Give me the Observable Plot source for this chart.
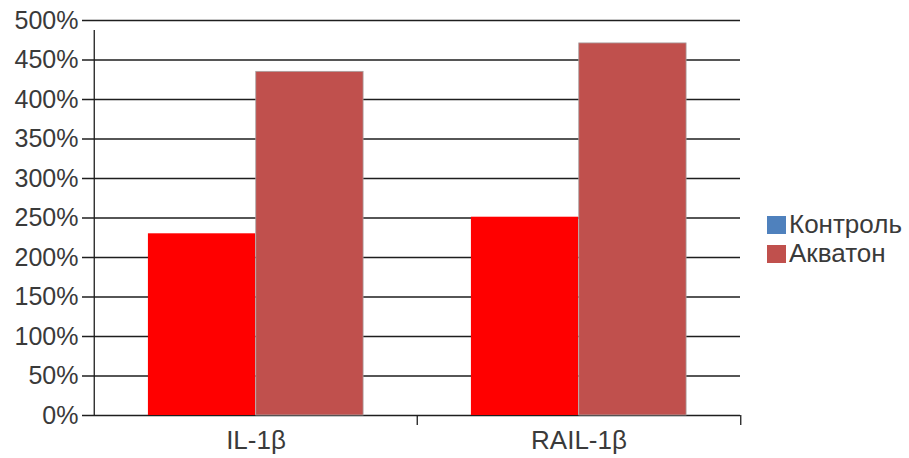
<!DOCTYPE html>
<html>
<head>
<meta charset="utf-8">
<script src="https://cdn.jsdelivr.net/npm/d3@7"></script>
<script src="https://cdn.jsdelivr.net/npm/@observablehq/plot@0.6"></script>
<style>
  html, body { margin: 0; padding: 0; background: #fff; }
  #wrap { position: relative; width: 909px; height: 458px; font-family: "Liberation Sans", Arial, sans-serif; }
  #legend { position: absolute; left: 767px; top: 210px; font-size: 26px; color: #3a3a3a; line-height: 29px; }
  #legend .row { display: flex; align-items: center; white-space: nowrap; }
  #legend .sw { width: 19px; height: 18px; margin-right: 3px; }
  svg .xax text { font-size: 26px; }
</style>
</head>
<body>
<div id="wrap"><div id="legend"></div></div>
<script>
// Data
const categories = ["IL-1β", "RAIL-1β"];
const series = ["Контроль", "Акватон"];
const control = [230, 251];
const akvaton = [435, 471];
const yTicks = [0, 50, 100, 150, 200, 250, 300, 350, 400, 450, 500];

const rows = [];
categories.forEach((c, i) => {
  rows.push({category: c, series: series[0], value: control[i]});
  rows.push({category: c, series: series[1], value: akvaton[i]});
});

const W = 909, H = 458;
const mL = 93, mR = 169, mT = 20, mB = 43;
const band = (W - mL - mR) / categories.length;
const barColors = {"Контроль": "#ff0000", "Акватон": "#c0504d"};
const legendColors = {"Контроль": "#4f81bd", "Акватон": "#c0504d"};

const chart = Plot.plot({
  width: W,
  height: H,
  marginLeft: mL,
  marginRight: mR,
  marginTop: mT,
  marginBottom: mB,
  style: {fontFamily: "Liberation Sans, Arial, sans-serif", fontSize: "25px", color: "#3a3a3a", background: "#fff"},
  x: {domain: categories, padding: 0},
  y: {domain: [0, 500]},
  marks: [
    Plot.ruleY(yTicks, {stroke: "#1e1e1e", strokeWidth: 1.3, insetLeft: -11}),
    Plot.barY(rows.filter(d => d.series === series[0]), {
      x: "category", y: "value", fill: d => barColors[d.series],
      insetLeft: band / 6, insetRight: band / 2
    }),
    Plot.barY(rows.filter(d => d.series === series[1]), {
      x: "category", y: "value", fill: d => barColors[d.series],
      stroke: "#a8a0a0", strokeWidth: 0.8,
      insetLeft: band / 2, insetRight: band / 6
    }),
    // y axis line
    Plot.ruleX([categories[0]], {dx: -band / 2, y1: 0, y2: 500, insetBottom: -10, stroke: "#1e1e1e", strokeWidth: 1.3}),
    // category boundary ticks
    Plot.ruleX(categories.slice(1), {dx: -band / 2, y1: 0, y2: 0, insetBottom: -10, stroke: "#1e1e1e", strokeWidth: 1.3}),
    Plot.ruleX(categories.slice(-1), {dx: band / 2, y1: 0, y2: 0, insetBottom: -10, stroke: "#1e1e1e", strokeWidth: 1.3}),
    Plot.axisY({ticks: yTicks, tickSize: 0, tickPadding: 15, tickFormat: d => d + "%", label: null}),
    Plot.axisX({tickSize: 0, tickPadding: 15, label: null, className: "xax"})
  ]
});
document.getElementById("wrap").prepend(chart);

const legend = document.getElementById("legend");
series.forEach(s => {
  const row = document.createElement("div");
  row.className = "row";
  const sw = document.createElement("span");
  sw.className = "sw";
  sw.style.background = legendColors[s];
  const t = document.createElement("span");
  t.textContent = s;
  row.appendChild(sw);
  row.appendChild(t);
  legend.appendChild(row);
});
</script>
</body>
</html>
